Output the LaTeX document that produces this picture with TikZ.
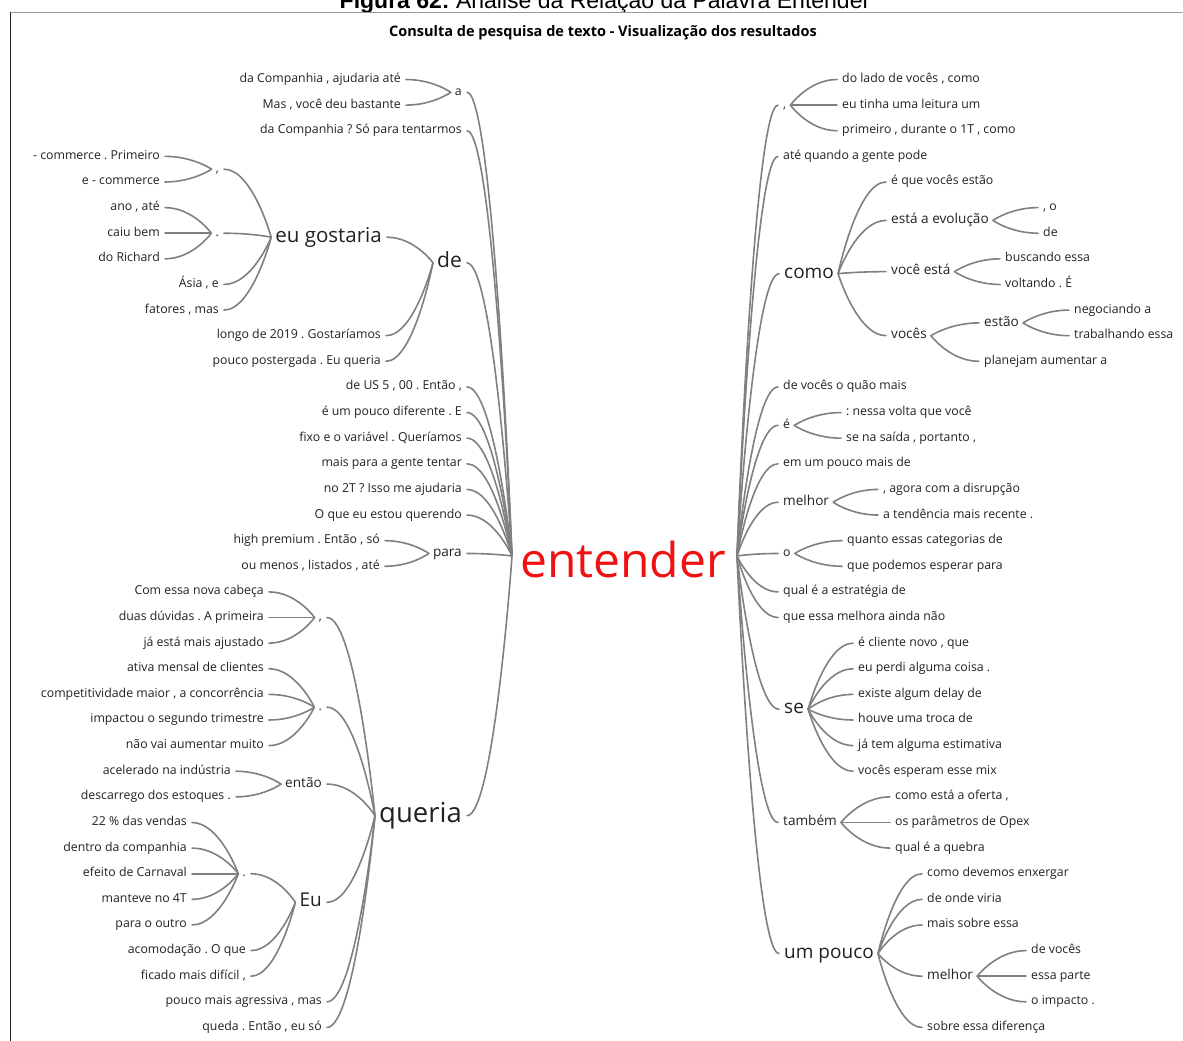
\documentclass[tikz,border=0pt]{standalone}
\usepackage{fontspec}
\setmainfont{Open Sans}
\newfontfamily\capfont{Liberation Sans}
\usetikzlibrary{calc}
\frenchspacing

\definecolor{linkgray}{HTML}{808080}
\definecolor{txt}{HTML}{222222}
\definecolor{rootred}{HTML}{F01212}

% child on the left of its parent / child on the right of its parent
\newcommand\lnL[2]{\draw[lk] ([xshift=5pt]#1.east) to ([xshift=-4pt]#2.west);}
\newcommand\lnR[2]{\draw[lk] ([xshift=-5pt]#1.west) to ([xshift=4pt]#2.east);}
\newcommand\rtL[1]{\draw[lk] ([xshift=5pt]#1.east) to (rootL);}
\newcommand\rtR[1]{\draw[lk] ([xshift=-5pt]#1.west) to (rootR);}

\begin{document}
\frenchspacing
\begin{tikzpicture}[x=1pt,y=-1pt,
  declare function={R(\i)=79.5+25.62*\i;},
  w/.style={inner sep=0pt, text=txt, execute at begin node=\strut},
  leaf/.style={w, font=\fontsize{12.3}{14.8}\selectfont},
  midw/.style={w, font=\fontsize{13.6}{16.3}\selectfont},
  bigw/.style={w, font=\fontsize{19}{22.8}\selectfont},
  L/.style={anchor=east}, Rt/.style={anchor=west},
  lk/.style={draw=linkgray, line width=1.6pt, line cap=round,
    to path={let \p1=(\tikztostart), \p2=(\tikztotarget) in
      .. controls ({\x1+0.6*(\x2-\x1)},\y1) and (\x2,\y2) .. (\tikztotarget)}},
]
\fill[white] (0,0) rectangle (1183,1041);
\useasboundingbox (0,0) rectangle (1183,1041);
\begin{scope}
\clip (0,0) rectangle (1183,1041);
\node[font=\capfont\fontsize{23}{27}\selectfont, anchor=base, inner sep=0pt] (cap) at (605,9)
  {\textbf{Figura 62:} Análise da Relação da Palavra Entender};
\end{scope}

% frame
\draw[gray!80, line width=0.8pt] (10,12) -- (1183,12);
\draw[black!85, line width=0.9pt] (10,12) -- (10,1041);

\node[font=\bfseries\fontsize{14.5}{17}\selectfont, inner sep=0pt] (title) at (603,33)
  {Consulta de pesquisa de texto - Visualização dos resultados};

% root word
\node[font=\fontsize{48}{57.6}\selectfont, text=rootred, inner sep=0pt, anchor=base] (entender) at (623,577) {entender};
\coordinate (rootL) at (512,556);
\coordinate (rootR) at (737,556);

% ---------------- left side ----------------
\node[leaf,L] (a1) at (462,{(R(0)+R(1))/2}) {a};
\node[leaf,L] (l0) at (401,{R(0)}) {da Companhia , ajudaria até};
\node[leaf,L] (l1) at (401,{R(1)}) {Mas , você deu bastante};
\node[leaf,L] (l2) at (462,{R(2)}) {da Companhia ? Só para tentarmos};

\node[w,L,font=\fontsize{21}{25.2}\selectfont] (de) at (462,{(R(3)+R(11))/2+4}) {de};
\node[w,L,font=\fontsize{20.5}{24.6}\selectfont] (eug) at (382,{(R(3)+R(9))/2+4}) {eu gostaria};
\node[leaf,L] (c1) at (219,{(R(3)+R(4))/2}) {,};
\node[leaf,L] (p1) at (219,{(R(5)+R(7))/2}) {.};
\node[leaf,L] (l3) at (160,{R(3)}) {- commerce . Primeiro};
\node[leaf,L] (l4) at (160,{R(4)}) {e - commerce};
\node[leaf,L] (l5) at (160,{R(5)}) {ano , até};
\node[leaf,L] (l6) at (160,{R(6)}) {caiu bem};
\node[leaf,L] (l7) at (160,{R(7)}) {do Richard};
\node[leaf,L] (l8) at (219,{R(8)}) {Ásia , e};
\node[leaf,L] (l9) at (219,{R(9)}) {fatores , mas};
\node[leaf,L] (l10) at (381,{R(10)}) {longo de 2019 . Gostaríamos};
\node[leaf,L] (l11) at (381,{R(11)}) {pouco postergada . Eu queria};

\node[leaf,L] (l12) at (462,{R(12)}) {de US 5 , 00 . Então ,};
\node[leaf,L] (l13) at (462,{R(13)}) {é um pouco diferente . E};
\node[leaf,L] (l14) at (462,{R(14)}) {fixo e o variável . Queríamos};
\node[leaf,L] (l15) at (462,{R(15)}) {mais para a gente tentar};
\node[leaf,L] (l16) at (462,{R(16)}) {no 2T ? Isso me ajudaria};
\node[leaf,L] (l17) at (462,{R(17)}) {O que eu estou querendo};

\node[midw,L] (para) at (462,{(R(18)+R(19))/2}) {para};
\node[leaf,L] (l18) at (380,{R(18)}) {high premium . Então , só};
\node[leaf,L] (l19) at (380,{R(19)}) {ou menos , listados , até};

\node[w,L,font=\fontsize{27.5}{33}\selectfont] (queria) at (462,{(R(20)+R(37))/2+6}) {queria};
\node[leaf,L] (c2) at (322,{(R(20)+R(22))/2}) {,};
\node[leaf,L] (l20) at (264,{R(20)}) {Com essa nova cabeça};
\node[leaf,L] (l21) at (264,{R(21)}) {duas dúvidas . A primeira};
\node[leaf,L] (l22) at (264,{R(22)}) {já está mais ajustado};
\node[leaf,L] (p2) at (322,{(R(23)+R(26))/2}) {.};
\node[leaf,L] (l23) at (264,{R(23)}) {ativa mensal de clientes};
\node[leaf,L] (l24) at (264,{R(24)}) {competitividade maior , a concorrência};
\node[leaf,L] (l25) at (264,{R(25)}) {impactou o segundo trimestre};
\node[leaf,L] (l26) at (264,{R(26)}) {não vai aumentar muito};
\node[midw,L] (entao) at (322,{(R(27)+R(28))/2}) {então};
\node[leaf,L] (l27) at (231,{R(27)}) {acelerado na indústria};
\node[leaf,L] (l28) at (231,{R(28)}) {descarrego dos estoques .};
\node[bigw,L] (Eu) at (322,{(R(29)+R(35))/2+3}) {Eu};
\node[leaf,L] (p3) at (246,{(R(29)+R(33))/2}) {.};
\node[leaf,L] (l29) at (187,{R(29)}) {22 \% das vendas};
\node[leaf,L] (l30) at (187,{R(30)}) {dentro da companhia};
\node[leaf,L] (l31) at (187,{R(31)}) {efeito de Carnaval};
\node[leaf,L] (l32) at (187,{R(32)}) {manteve no 4T};
\node[leaf,L] (l33) at (187,{R(33)}) {para o outro};
\node[leaf,L] (l34) at (246,{R(34)}) {acomodação . O que};
\node[leaf,L] (l35) at (246,{R(35)}) {ficado mais difícil ,};
\node[leaf,L] (l36) at (322,{R(36)}) {pouco mais agressiva , mas};
\node[leaf,L] (l37) at (322,{R(37)}) {queda . Então , eu só};

% left connectors
\lnL{l0}{a1} \lnL{l1}{a1} \rtL{a1} \rtL{l2}
\lnL{l3}{c1} \lnL{l4}{c1}
\foreach \n in {l5,l6,l7} {\lnL{\n}{p1}}
\foreach \n in {c1,p1,l8,l9} {\lnL{\n}{eug}}
\foreach \n in {eug,l10,l11} {\lnL{\n}{de}}
\foreach \n in {de,l12,l13,l14,l15,l16,l17,para,queria} {\rtL{\n}}
\lnL{l18}{para} \lnL{l19}{para}
\foreach \n in {l20,l21,l22} {\lnL{\n}{c2}}
\foreach \n in {l23,l24,l25,l26} {\lnL{\n}{p2}}
\lnL{l27}{entao} \lnL{l28}{entao}
\foreach \n in {l29,l30,l31,l32,l33} {\lnL{\n}{p3}}
\foreach \n in {p3,l34,l35} {\lnL{\n}{Eu}}
\foreach \n in {c2,p2,entao,Eu,l36,l37} {\lnL{\n}{queria}}

% ---------------- right side ----------------
\node[leaf,Rt] (c3) at (783,{(R(0)+R(2))/2}) {,};
\node[leaf,Rt] (r0) at (842,{R(0)}) {do lado de vocês , como};
\node[leaf,Rt] (r1) at (842,{R(1)}) {eu tinha uma leitura um};
\node[leaf,Rt] (r2) at (842,{R(2)}) {primeiro , durante o 1T , como};
\node[leaf,Rt] (r3) at (783,{R(3)}) {até quando a gente pode};

\node[bigw,Rt] (como) at (784,{(R(4)+R(11))/2+2}) {como};
\node[leaf,Rt] (r4) at (891,{R(4)}) {é que vocês estão};
\node[midw,Rt] (evol) at (891,{(R(5)+R(6))/2}) {está a evolução};
\node[leaf,Rt] (r5) at (1043,{R(5)}) {, o};
\node[leaf,Rt] (r6) at (1043,{R(6)}) {de};
\node[midw,Rt] (voce) at (891,{(R(7)+R(8))/2}) {você está};
\node[leaf,Rt] (r7) at (1005,{R(7)}) {buscando essa};
\node[leaf,Rt] (r8) at (1005,{R(8)}) {voltando . É};
\node[midw,Rt] (voces) at (891,{(R(9)+R(11))/2}) {vocês};
\node[midw,Rt] (estao) at (984,{(R(9)+R(10))/2}) {estão};
\node[leaf,Rt] (r9) at (1074,{R(9)}) {negociando a};
\node[leaf,Rt] (r10) at (1074,{R(10)}) {trabalhando essa};
\node[leaf,Rt] (r11) at (984,{R(11)}) {planejam aumentar a};

\node[leaf,Rt] (r12) at (783,{R(12)}) {de vocês o quão mais};
\node[leaf,Rt] (e1) at (783,{(R(13)+R(14))/2}) {é};
\node[leaf,Rt] (r13) at (846,{R(13)}) {: nessa volta que você};
\node[leaf,Rt] (r14) at (846,{R(14)}) {se na saída , portanto ,};
\node[leaf,Rt] (r15) at (783,{R(15)}) {em um pouco mais de};
\node[midw,Rt] (mel1) at (783,{(R(16)+R(17))/2}) {melhor};
\node[leaf,Rt] (r16) at (883,{R(16)}) {, agora com a disrupção};
\node[leaf,Rt] (r17) at (883,{R(17)}) {a tendência mais recente .};
\node[leaf,Rt] (o1) at (783,{(R(18)+R(19))/2}) {o};
\node[leaf,Rt] (r18) at (847,{R(18)}) {quanto essas categorias de};
\node[leaf,Rt] (r19) at (847,{R(19)}) {que podemos esperar para};
\node[leaf,Rt] (r20) at (783,{R(20)}) {qual é a estratégia de};
\node[leaf,Rt] (r21) at (783,{R(21)}) {que essa melhora ainda não};

\node[bigw,Rt] (se) at (784,{(R(22)+R(27))/2+2}) {se};
\node[leaf,Rt] (r22) at (858,{R(22)}) {é cliente novo , que};
\node[leaf,Rt] (r23) at (858,{R(23)}) {eu perdi alguma coisa .};
\node[leaf,Rt] (r24) at (858,{R(24)}) {existe algum delay de};
\node[leaf,Rt] (r25) at (858,{R(25)}) {houve uma troca de};
\node[leaf,Rt] (r26) at (858,{R(26)}) {já tem alguma estimativa};
\node[leaf,Rt] (r27) at (858,{R(27)}) {vocês esperam esse mix};

\node[midw,Rt] (tambem) at (783,{(R(28)+R(30))/2}) {também};
\node[leaf,Rt] (r28) at (895,{R(28)}) {como está a oferta ,};
\node[leaf,Rt] (r29) at (895,{R(29)}) {os parâmetros de Opex};
\node[leaf,Rt] (r30) at (895,{R(30)}) {qual é a quebra};

\node[bigw,Rt] (umpouco) at (784,{(R(31)+R(37))/2+3}) {um pouco};
\node[leaf,Rt] (r31) at (927,{R(31)}) {como devemos enxergar};
\node[leaf,Rt] (r32) at (927,{R(32)}) {de onde viria};
\node[leaf,Rt] (r33) at (927,{R(33)}) {mais sobre essa};
\node[midw,Rt] (mel2) at (927,{(R(34)+R(36))/2}) {melhor};
\node[leaf,Rt] (r34) at (1031,{R(34)}) {de vocês};
\node[leaf,Rt] (r35) at (1031,{R(35)}) {essa parte};
\node[leaf,Rt] (r36) at (1031,{R(36)}) {o impacto .};
\node[leaf,Rt] (r37) at (927,{R(37)}) {sobre essa diferença};

% right connectors
\foreach \n in {r0,r1,r2} {\lnR{\n}{c3}}
\foreach \n in {c3,r3,como,r12,e1,r15,mel1,o1,r20,r21,se,tambem,umpouco} {\rtR{\n}}
\foreach \n in {r4,evol,voce,voces} {\lnR{\n}{como}}
\lnR{r5}{evol} \lnR{r6}{evol}
\lnR{r7}{voce} \lnR{r8}{voce}
\lnR{estao}{voces} \lnR{r11}{voces}
\lnR{r9}{estao} \lnR{r10}{estao}
\lnR{r13}{e1} \lnR{r14}{e1}
\lnR{r16}{mel1} \lnR{r17}{mel1}
\lnR{r18}{o1} \lnR{r19}{o1}
\foreach \n in {r22,r23,r24,r25,r26,r27} {\lnR{\n}{se}}
\foreach \n in {r28,r29,r30} {\lnR{\n}{tambem}}
\foreach \n in {r31,r32,r33,mel2,r37} {\lnR{\n}{umpouco}}
\foreach \n in {r34,r35,r36} {\lnR{\n}{mel2}}
\end{tikzpicture}
\end{document}
